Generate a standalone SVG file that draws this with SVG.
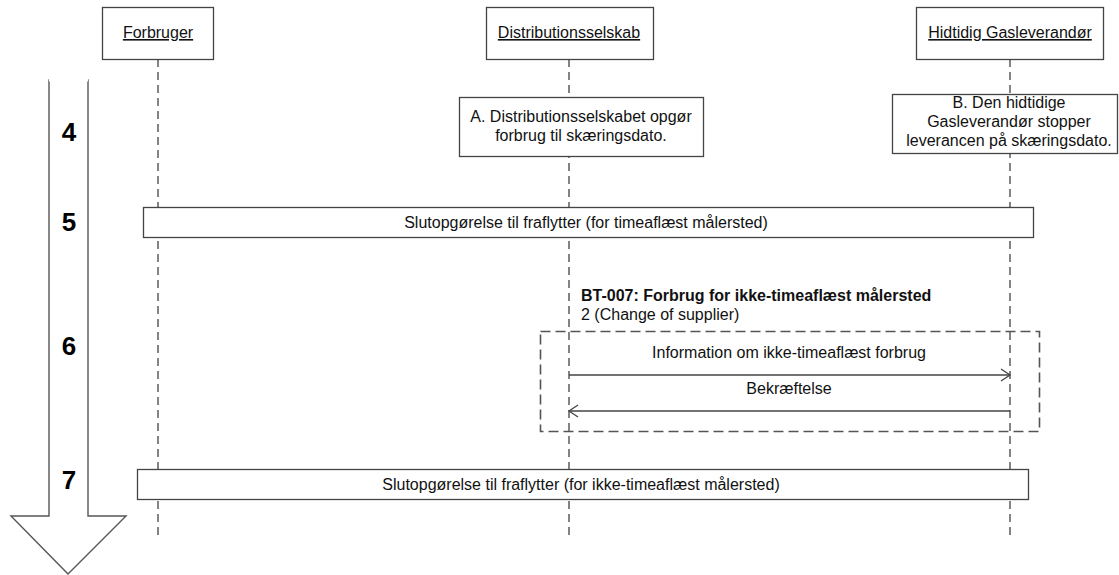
<svg xmlns="http://www.w3.org/2000/svg" width="1119" height="575" viewBox="0 0 1119 575">
<defs>
<style>
.box{fill:#fff;stroke:#444;stroke-width:1.3}
.life{stroke:#333;stroke-width:1.2;stroke-dasharray:8 5;fill:none}
.frame{fill:none;stroke:#555;stroke-width:1.6;stroke-dasharray:10 5}
.msg{stroke:#444;stroke-width:1.3;fill:none}
.t{font-family:"Liberation Sans",Arial,sans-serif;font-size:16px;fill:#111}
.c{text-anchor:middle}
.hd{text-decoration:underline}
.num{font-family:"Liberation Sans",Arial,sans-serif;font-size:26px;font-weight:bold;fill:#000;text-anchor:middle}
</style>
<marker id="open" markerWidth="12" markerHeight="14" refX="10" refY="7" orient="auto" markerUnits="userSpaceOnUse">
<path d="M1,1 L10,7 L1,13" fill="none" stroke="#444" stroke-width="1.3"/>
</marker>
</defs>
<rect width="1119" height="575" fill="#fff"/>

<g id="timeline">
<polygon points="49,80 49,516 11,516 68,574 126,516 88,516 88,80" fill="#fff" stroke="#555" stroke-width="1.4"/>
<line x1="49" y1="80" x2="88" y2="80" stroke="#fff" stroke-width="3"/>
<text class="num" x="69" y="141">4</text>
<text class="num" x="69" y="231">5</text>
<text class="num" x="69" y="355">6</text>
<text class="num" x="69" y="489">7</text>
</g>

<g id="lifelines">
<line class="life" x1="158" y1="59" x2="158" y2="540"/>
<line class="life" x1="569" y1="59" x2="569" y2="540"/>
<line class="life" x1="1010" y1="59" x2="1010" y2="540"/>
</g>

<g id="node-forbruger">
<rect class="box" x="102.5" y="7.5" width="111" height="52"/>
<text class="t c hd" x="158" y="38" font-size="15">Forbruger</text>
</g>
<g id="node-distribution">
<rect class="box" x="486.5" y="7.5" width="167" height="52"/>
<text class="t c hd" x="569" y="38">Distributionsselskab</text>
</g>
<g id="node-gasleverandor">
<rect class="box" x="916.5" y="7.5" width="187" height="52"/>
<text class="t c hd" x="1010" y="38">Hidtidig Gasleverandør</text>
</g>

<g id="node-A">
<rect class="box" x="459.5" y="97.5" width="244" height="59"/>
<text class="t c" x="581" y="122">A. Distributionsselskabet opgør</text>
<text class="t c" x="581" y="141">forbrug til skæringsdato.</text>
</g>
<g id="node-B">
<rect class="box" x="892.5" y="94.5" width="225" height="59"/>
<text class="t c" x="1009" y="108">B. Den hidtidige</text>
<text class="t c" x="1009" y="127">Gasleverandør stopper</text>
<text class="t c" x="1009" y="146">leverancen på skæringsdato.</text>
</g>

<g id="node-step5">
<rect class="box" x="143.5" y="207.5" width="890" height="30"/>
<text class="t c" x="586" y="228">Slutopgørelse til fraflytter (for timeaflæst målersted)</text>
</g>

<g id="node-bt007">
<text class="t" x="581" y="301" font-weight="bold" font-size="15">BT-007: Forbrug for ikke-timeaflæst målersted</text>
<text class="t" x="581" y="320">2 (Change of supplier)</text>
<rect class="frame" x="540.5" y="331.5" width="499" height="100"/>
</g>

<g id="connectors">
<line class="msg" x1="569" y1="375" x2="1010" y2="375" marker-end="url(#open)"/>
<text class="t c" x="789" y="358">Information om ikke-timeaflæst forbrug</text>
<line class="msg" x1="1010" y1="411" x2="569" y2="411" marker-end="url(#open)"/>
<text class="t c" x="789" y="394">Bekræftelse</text>
</g>

<g id="node-step7">
<rect class="box" x="137.5" y="469.5" width="891" height="30"/>
<text class="t c" x="581" y="490">Slutopgørelse til fraflytter (for ikke-timeaflæst målersted)</text>
</g>
</svg>
